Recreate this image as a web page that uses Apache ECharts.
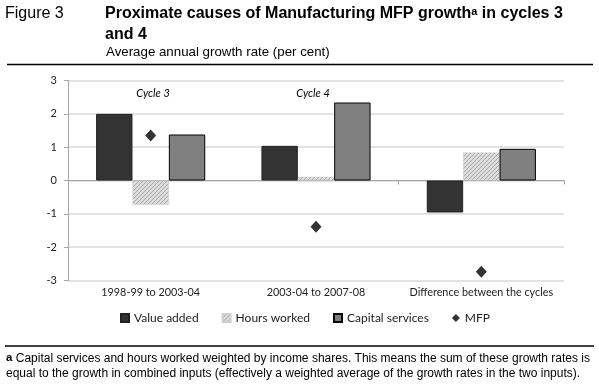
<!DOCTYPE html>
<html><head><meta charset="utf-8">
<script src="https://cdn.jsdelivr.net/npm/echarts@6/dist/echarts.min.js"></script>
<style>html,body{margin:0;padding:0;background:#fff}#c{width:599px;height:390px}</style>
</head><body><div id="c"></div>
<script>
const categories = ['1998-99 to 2003-04', '2003-04 to 2007-08', 'Difference between the cycles'];
const valueAdded = [2.00, 1.04, -0.96];
const hoursWorked = [-0.73, 0.11, 0.84];
const capitalServices = [1.38, 2.34, 0.95];
const mfp = [1.35, -1.39, -2.74];
const yTicks = [-3, -2, -1, 0, 1, 2, 3];

function hatch() {
  const c = document.createElement('canvas');
  c.width = 4; c.height = 4;
  const g = c.getContext('2d');
  g.fillStyle = '#dcdcdc'; g.fillRect(0, 0, 4, 4);
  g.fillStyle = '#a9a9a9';
  for (let i = 0; i < 4; i++) g.fillRect((3 - i) % 4, i, 1, 1);
  return c;
}
const hatchPattern = { image: hatch(), repeat: 'repeat' };

const FONT = 'Lato';
const chart = echarts.init(document.getElementById('c'), null, { renderer: 'canvas' });
chart.setOption({
  animation: false,
  backgroundColor: '#fff',
  grid: { left: 68, right: 35, top: 80.5, bottom: 109.5 },
  legend: {
    top: 307, left: 115, itemWidth: 8, itemHeight: 8, itemGap: 23,
    textStyle: { fontFamily: FONT, fontSize: 12, color: '#222' },
    data: [
      { name: 'Value added', icon: 'rect' },
      { name: 'Hours worked', icon: 'rect' },
      { name: 'Capital services', icon: 'rect' },
      { name: 'MFP', icon: 'diamond' }
    ]
  },
  xAxis: [{
    type: 'category', data: categories,
    axisLine: { onZero: true, lineStyle: { color: '#a6a6a6', width: 1 } },
    axisTick: { show: true, length: 4, lineStyle: { color: '#a6a6a6' } },
    axisLabel: { show: false }
  }, {
    type: 'category', data: categories, position: 'bottom',
    axisLine: { show: false, onZero: false }, axisTick: { show: false },
    axisLabel: { interval: 0, fontFamily: FONT, fontSize: 10.8, color: '#222', margin: 7 }
  }],
  yAxis: {
    type: 'value', min: -3, max: 3, interval: 1,
    axisLine: { show: true, lineStyle: { color: '#a6a6a6' } },
    axisTick: { show: true, length: 4, lineStyle: { color: '#a6a6a6' } },
    axisLabel: { fontFamily: FONT, fontSize: 11, color: '#222', margin: 11 },
    splitLine: { lineStyle: { color: '#d9d9d9', width: 1.5 } }
  },
  series: [
    { name: 'Value added', type: 'bar', data: valueAdded, barGap: '0%', barCategoryGap: '34%',
      itemStyle: { color: '#333333', borderColor: '#222', borderWidth: 1 } },
    { name: 'Hours worked', type: 'bar', data: hoursWorked,
      itemStyle: { color: hatchPattern, borderColor: '#cfcfcf', borderWidth: 0.5 } },
    { name: 'Capital services', type: 'bar', data: capitalServices,
      itemStyle: { color: '#808080', borderColor: '#000', borderWidth: 1 } },
    { name: 'MFP', type: 'scatter', data: mfp, symbol: 'diamond', symbolSize: [11, 12],
      itemStyle: { color: '#000' }, z: 5 }
  ],
  graphic: [
    { type: 'text', x: 5, y: 14, style: { text: 'Figure 3', font: '16px "Liberation Sans"', fill: '#000', verticalAlign: 'middle' } },
    { type: 'text', x: 105, y: 14, style: {
      text: '{b|Proximate causes of Manufacturing MFP growth}{s|a}{b| in cycles 3}', verticalAlign: 'middle',
      rich: { b: { font: 'bold 16px "Liberation Sans"', fill: '#000' },
              s: { font: 'bold 11px "Liberation Sans"', fill: '#000', verticalAlign: 'top', padding: [0,0,5,0] } } } },
    { type: 'text', x: 105, y: 35, style: { text: 'and 4', font: 'bold 16px "Liberation Sans"', fill: '#000', verticalAlign: 'middle' } },
    { type: 'text', x: 106, y: 52, style: { text: 'Average annual growth rate (per cent)', font: '13.3px "Liberation Sans"', fill: '#000', verticalAlign: 'middle' } },
    { type: 'line', shape: { x1: 7, y1: 64.5, x2: 593, y2: 64.5 }, style: { stroke: '#000', lineWidth: 1.5 } },
    { type: 'text', x: 153, y: 93, style: { text: 'Cycle 3', font: 'italic 11px Lato', fill: '#000', align: 'center', verticalAlign: 'middle' } },
    { type: 'text', x: 313, y: 93, style: { text: 'Cycle 4', font: 'italic 11px Lato', fill: '#000', align: 'center', verticalAlign: 'middle' } },
    { type: 'line', shape: { x1: 5, y1: 346, x2: 594, y2: 346 }, style: { stroke: '#000', lineWidth: 1.5 } },
    { type: 'text', x: 6, y: 359, style: {
      text: '{s|a} Capital services and hours worked weighted by income shares. This means the sum of these growth rates is',
      verticalAlign: 'middle',
      rich: { s: { font: 'bold 11.5px "Liberation Sans"', fill: '#000', padding: [0,0,3,0] } },
      font: '12px "Liberation Sans"', fill: '#000' } },
    { type: 'text', x: 6, y: 374, style: {
      text: 'equal to the growth in combined inputs (effectively a weighted average of the growth rates in the two inputs).',
      verticalAlign: 'middle', font: '12px "Liberation Sans"', fill: '#000' } }
  ]
});
</script></body></html>
